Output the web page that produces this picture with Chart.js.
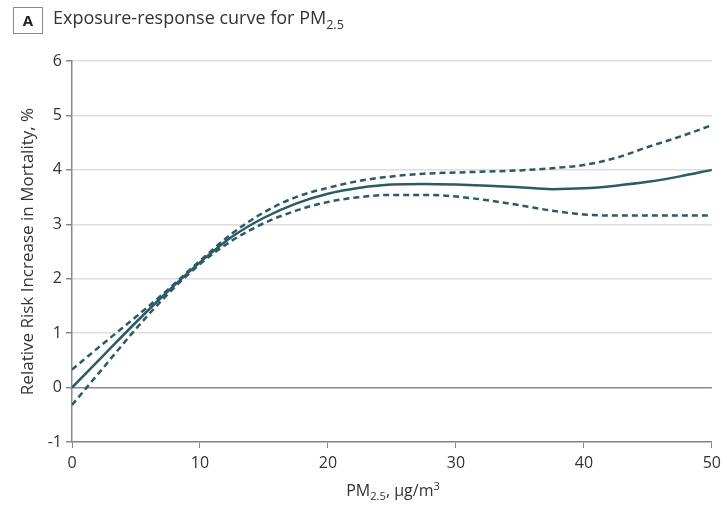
<!DOCTYPE html>
<html>
<head>
<meta charset="utf-8">
<script src="https://cdn.jsdelivr.net/npm/chart.js@4"></script>
<style>
  body { margin: 0; background: #fff; font-family: 'Open Sans', sans-serif; }
  #wrap { position: relative; width: 727px; height: 508px; }
  #chart { position: absolute; left: 0; top: 0; }
  .panel { position: absolute; left: 13px; top: 7px; width: 28px; height: 25px; border: 1px solid #888;
    font: bold 15px 'Open Sans', sans-serif; text-align: center; line-height: 25px; color: #222; }
  .title { position: absolute; left: 53px; top: 5px; font-size: 18px; color: #333; }
  .xtitle { position: absolute; left: 72px; width: 642px; top: 479px; text-align: center; font-size: 16px; color: #333; }
  sub, sup { font-size: 70%; line-height: 0; }
</style>
</head>
<body>
<div id="wrap">
  <canvas id="chart" width="727" height="508"></canvas>
  <div class="panel">A</div>
  <div class="title">Exposure-response curve for PM<sub>2.5</sub></div>
  <div class="xtitle">PM<sub>2.5</sub>, µg/m<sup>3</sup></div>
</div>
<script>
const pm = [0, 2.5, 5, 7.5, 10, 12.5, 15, 17.5, 20, 22.5, 25, 27.5, 30, 32.5, 35, 37.5, 40, 42.5, 45, 47.5, 50]
const estimate = [0, 0.6, 1.2, 1.77, 2.3, 2.77, 3.12, 3.38, 3.56, 3.67, 3.73, 3.74, 3.73, 3.71, 3.68, 3.645, 3.66, 3.71, 3.78, 3.88, 4.0]
const upper = [0.33, 0.82, 1.3, 1.8, 2.33, 2.83, 3.22, 3.5, 3.67, 3.8, 3.88, 3.93, 3.95, 3.97, 3.99, 4.03, 4.09, 4.22, 4.42, 4.61, 4.82]
const lower = [-0.32, 0.38, 1.08, 1.72, 2.27, 2.7, 3.02, 3.25, 3.41, 3.5, 3.54, 3.54, 3.51, 3.44, 3.35, 3.25, 3.18, 3.16, 3.16, 3.16, 3.16]
const xTicks = [0, 10, 20, 30, 40, 50]
const yTicks = [-1, 0, 1, 2, 3, 4, 5, 6]

const lineColor = '#2d5a67'
const pts = (ys) => pm.map((x, i) => ({ x, y: ys[i] }))

const band = (label, ys) => ({
  label,
  data: pts(ys),
  borderColor: lineColor,
  borderWidth: 2.5,
  borderDash: [6, 4],
  pointRadius: 0,
  cubicInterpolationMode: 'monotone',
})

new Chart(document.getElementById('chart'), {
  type: 'line',
  data: {
    datasets: [
      band('Upper', upper),
      {
        label: 'Estimate',
        data: pts(estimate),
        borderColor: lineColor,
        borderWidth: 2.5,
        pointRadius: 0,
        cubicInterpolationMode: 'monotone',
      },
      band('Lower', lower),
    ],
  },
  options: {
    responsive: false,
    animation: false,
    layout: { padding: { top: 61, right: 13, left: 0, bottom: 0 } },
    plugins: { legend: { display: false }, tooltip: { enabled: false } },
    scales: {
      x: {
        type: 'linear',
        min: 0,
        max: 50,
        afterBuildTicks: (s) => { s.ticks = xTicks.map((v) => ({ value: v })) },
        afterFit: (s) => { s.height = 66 },
        grid: { drawOnChartArea: false, tickLength: 6, tickColor: '#888' },
        border: { color: '#888', width: 1.5 },
        ticks: { color: '#333', font: { family: 'Open Sans', size: 16 }, padding: 6 },
      },
      y: {
        min: -1,
        max: 6,
        afterBuildTicks: (s) => { s.ticks = yTicks.map((v) => ({ value: v })) },
        afterFit: (s) => { s.width = 72 },
        grid: {
          color: (ctx) => (ctx.tick && ctx.tick.value === 0 ? '#8a8a8a' : '#dedede'),
          lineWidth: 1.5,
          tickLength: 6,
          tickColor: '#888',
        },
        border: { color: '#888', width: 1.5 },
        ticks: { color: '#333', font: { family: 'Open Sans', size: 16 }, padding: 4 },
        title: {
          display: true,
          text: 'Relative Risk Increase in Mortality, %',
          color: '#333',
          font: { family: 'Open Sans', size: 17 },
          padding: { top: 18, bottom: 0 },
        },
      },
    },
  },
})
</script>
</body>
</html>
